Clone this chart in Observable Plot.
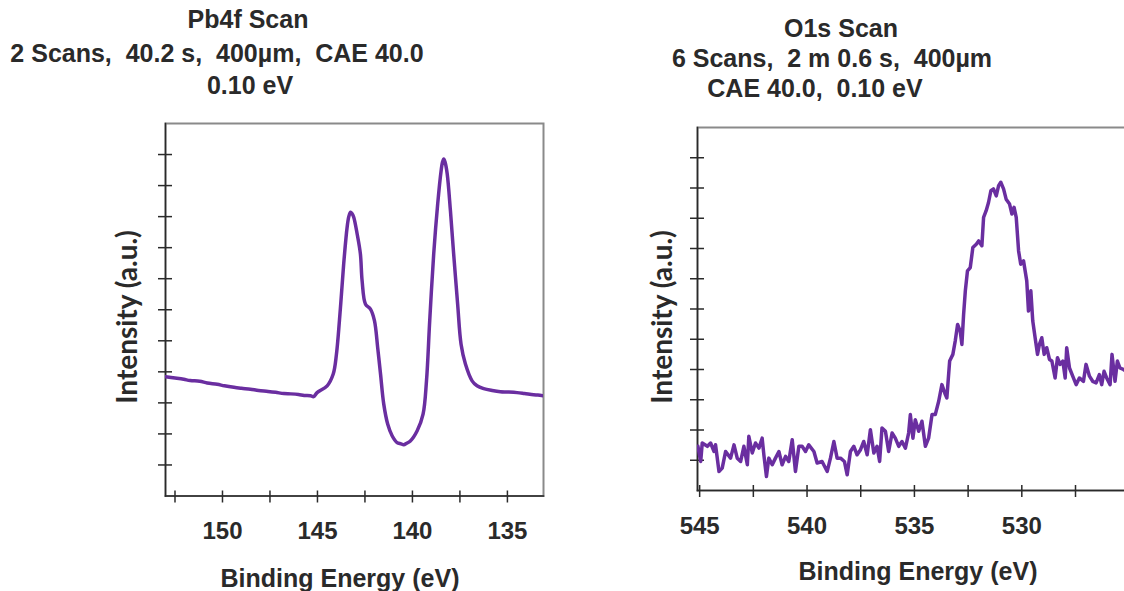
<!DOCTYPE html>
<html><head><meta charset="utf-8">
<script src="https://cdn.jsdelivr.net/npm/d3@7"></script>
<script src="https://cdn.jsdelivr.net/npm/@observablehq/plot@0.6"></script>
<style>
html,body{margin:0;padding:0;background:#fff;overflow:hidden}
#wrap{position:relative;width:1124px;height:591px;overflow:hidden;background:#fff}
#wrap > svg{position:absolute;top:0}
</style></head><body><div id="wrap"></div>
<script>
// ---- data ----
const pbEnergy = [153.00,152.5,152.04,151.7,151.2,150.8,150.28,149.9,149.4,149.0,148.53,148.1,147.6,147.2,146.77,146.4,146.0,145.7,145.37,145.2,145.02,144.49,144.17,144.00,143.79,143.62,143.44,143.35,143.26,143.18,143.09,142.91,142.74,142.65,142.47,142.21,142.00,141.83,141.68,141.51,141.30,141.07,140.81,140.6,140.46,140.3,140.11,139.75,139.44,139.26,139.09,138.88,138.67,138.49,138.42,138.35,138.28,138.17,138.00,137.83,137.62,137.44,137.21,136.86,136.6,136.25,135.8,135.37,135.0,134.49,134.1,133.62,133.4,133.12];
const pbIntensity = [3.84,3.80,3.76,3.72,3.70,3.64,3.60,3.55,3.50,3.47,3.44,3.40,3.37,3.34,3.30,3.29,3.27,3.24,3.23,3.20,3.33,3.55,3.93,4.57,6.07,7.47,8.65,9.00,9.14,9.10,8.98,8.44,7.80,6.94,6.18,6.02,5.65,4.78,3.93,2.96,2.31,1.94,1.72,1.68,1.65,1.70,1.77,2.10,2.64,3.71,5.65,7.80,9.41,10.48,10.75,10.86,10.75,10.38,9.19,7.80,6.18,4.89,4.25,3.71,3.55,3.46,3.40,3.36,3.35,3.33,3.30,3.26,3.25,3.23];

const oEnergy = [545.08,544.95,544.88,544.64,544.49,544.33,544.26,544.10,543.95,543.79,
543.56,543.40,543.25,543.09,542.94,542.78,542.71,542.55,542.40,542.24,
542.09,542.01,541.89,541.78,541.62,541.47,541.31,541.16,541.00,540.85,
540.69,540.54,540.38,540.23,540.07,539.92,539.68,539.53,539.30,539.06,
538.91,538.75,538.60,538.44,538.26,538.13,537.98,537.82,537.67,537.51,
537.36,537.20,537.05,536.89,536.74,536.62,536.51,536.35,536.20,536.04,
535.89,535.73,535.58,535.42,535.27,535.19,535.07,534.96,534.80,534.65,
534.49,534.34,534.18,534.03,533.87,533.72,533.56,533.49,533.36,533.21,
533.10,532.99,532.87,532.79,532.71,532.63,532.53,532.40,532.28,532.12,
532.01,531.86,531.78,531.66,531.55,531.44,531.32,531.19,531.08,530.98,
530.85,530.73,530.57,530.46,530.36,530.26,530.15,530.05,529.92,529.77,
529.69,529.58,529.49,529.38,529.27,529.18,529.07,528.96,528.84,528.71,
528.60,528.45,528.34,528.22,528.09,527.98,527.91,527.78,527.63,527.47,
527.32,527.13,527.01,526.85,526.70,526.54,526.39,526.28,526.17,526.05,
525.89,525.80,525.66,525.55,525.43,525.27,525.05];
const oIntensity = [1.46,0.96,1.57,1.46,1.57,1.29,1.51,0.63,0.74,1.29,
1.07,1.51,1.07,0.96,1.46,0.85,1.79,1.24,1.57,1.40,
1.73,1.18,0.46,1.07,0.85,1.07,1.29,0.85,1.13,0.96,
1.68,0.63,1.46,1.46,1.29,1.51,1.29,0.91,0.96,0.63,
1.07,1.62,1.07,1.07,0.96,0.52,1.29,1.46,1.18,1.35,
1.62,1.18,2.01,1.24,1.46,0.96,2.07,1.96,1.29,1.90,
1.73,1.46,1.62,1.40,1.90,2.51,1.73,2.34,1.96,2.29,
1.46,1.73,2.51,2.51,2.95,3.50,3.17,3.06,4.28,4.50,
4.94,5.49,5.27,4.83,5.82,6.60,7.26,7.37,8.03,8.14,
8.25,8.09,9.03,9.25,9.52,9.91,9.97,9.74,10.08,10.19,
9.97,9.63,9.47,9.14,9.36,9.03,7.92,7.48,7.59,6.93,
5.93,6.60,5.60,5.05,4.50,4.83,5.05,4.50,4.72,4.33,
4.28,3.72,4.39,4.17,4.28,3.72,4.72,4.05,3.78,3.50,
3.72,3.61,4.17,3.78,3.61,3.56,3.83,3.50,3.94,3.72,
3.50,4.50,3.61,4.28,4.05,4.00,3.90];

const pbXTicks = [152.5,150,147.5,145,142.5,140,137.5,135];
const oXTicks = [545,542.5,540,537.5,535,532.5,530,527.5];
const yTicks = [1,2,3,4,5,6,7,8,9,10,11];
const pbTitle = ["Pb4f Scan", "2 Scans,  40.2 s,  400µm,  CAE 40.0", "0.10 eV"];
const oTitle = ["O1s Scan", "6 Scans,  2 m 0.6 s,  400µm", "CAE 40.0,  0.10 eV"];
const xLabel = "Binding Energy (eV)";
const yLabel = "Intensity (a.u.)";

// ---- drawing ----
const LINE = "#6a2ea0";
const INK = "#2a2a2a";
const FONT = "'Liberation Sans', Arial, sans-serif";

function panel({energy, intensity, xDomain, xTicks, width, height, ml, mr, mt, mb, left, curve}) {
  const data = energy.map((e, i) => ({e, v: intensity[i]}));
  const svg = Plot.plot({
    width, height, marginLeft: ml, marginRight: mr, marginTop: mt, marginBottom: mb,
    x: {domain: xDomain},
    y: {domain: [0, 12]},
    style: {background: "transparent", fontFamily: FONT, fontSize: "24px", fontWeight: "bold", color: INK, overflow: "visible"},
    marks: [
      Plot.frame({stroke: "#8a8a8a", strokeWidth: 2}),
      Plot.frame({anchor: "left", stroke: INK, strokeWidth: 1.5}),
      Plot.frame({anchor: "bottom", stroke: INK, strokeWidth: 1.5}),
      Plot.axisX({ticks: xTicks, tickSize: 7, tickPadding: 19, strokeWidth: 1.5, stroke: INK,
        tickFormat: d => (d % 5 === 0 ? String(d) : ""), label: null}),
      Plot.axisX({ticks: xTicks, tickSize: -5, strokeWidth: 1.5, stroke: INK, tickFormat: () => "", label: null}),
      Plot.axisY({ticks: yTicks, tickSize: 7, strokeWidth: 1.5, stroke: INK, tickFormat: () => "", label: null}),
      Plot.axisY({ticks: yTicks, tickSize: -7, strokeWidth: 1.5, stroke: INK, tickFormat: () => "", label: null}),
      Plot.line(data, {x: "e", y: "v", stroke: LINE, strokeWidth: 3.5, strokeLinejoin: "round", curve, clip: true})
    ]
  });
  svg.style.left = left + "px";
  return svg;
}

const wrap = document.getElementById("wrap");
wrap.appendChild(panel({energy: pbEnergy, intensity: pbIntensity, xDomain: [153.0, 133.1], xTicks: pbXTicks,
  width: 560, height: 591, ml: 165, mr: 17, mt: 123, mb: 95.5, left: 0, curve: "catmull-rom"}));
wrap.appendChild(panel({energy: oEnergy, intensity: oIntensity, xDomain: [545.1, 525], xTicks: oXTicks,
  width: 580, height: 591, ml: 137, mr: 11.3, mt: 127, mb: 101, left: 560, curve: "linear"}));

// overlay texts
const ov = d3.select(wrap).append("svg").attr("width", 1124).attr("height", 591).style("left", "0px")
  .style("font-family", FONT).style("font-weight", "bold").style("font-size", "25px").attr("fill", INK);
const titlePos = [
  [[248, 28], [217, 62], [250, 94]],
  [[841, 37], [832, 67], [815, 97]]
];
[pbTitle, oTitle].forEach((t, k) => t.forEach((s, i) => {
  ov.append("text").attr("x", titlePos[k][i][0]).attr("y", titlePos[k][i][1])
    .attr("xml:space", "preserve").style("white-space", "pre")
    .attr("text-anchor", "middle").text(s.replace(/  /g, " \u00a0"));
}));
[[340, 587], [918, 580]].forEach(([x, y]) => {
  ov.append("text").attr("x", x).attr("y", y).attr("text-anchor", "middle").text(xLabel);
});
[[137, 317], [672, 317]].forEach(([x, y]) => {
  ov.append("text").attr("transform", `translate(${x},${y}) rotate(-90)`).attr("text-anchor", "middle")
    .style("font-family", "Lato, 'Open Sans', sans-serif").style("font-size", "28px").text(yLabel);
});
</script></body></html>
